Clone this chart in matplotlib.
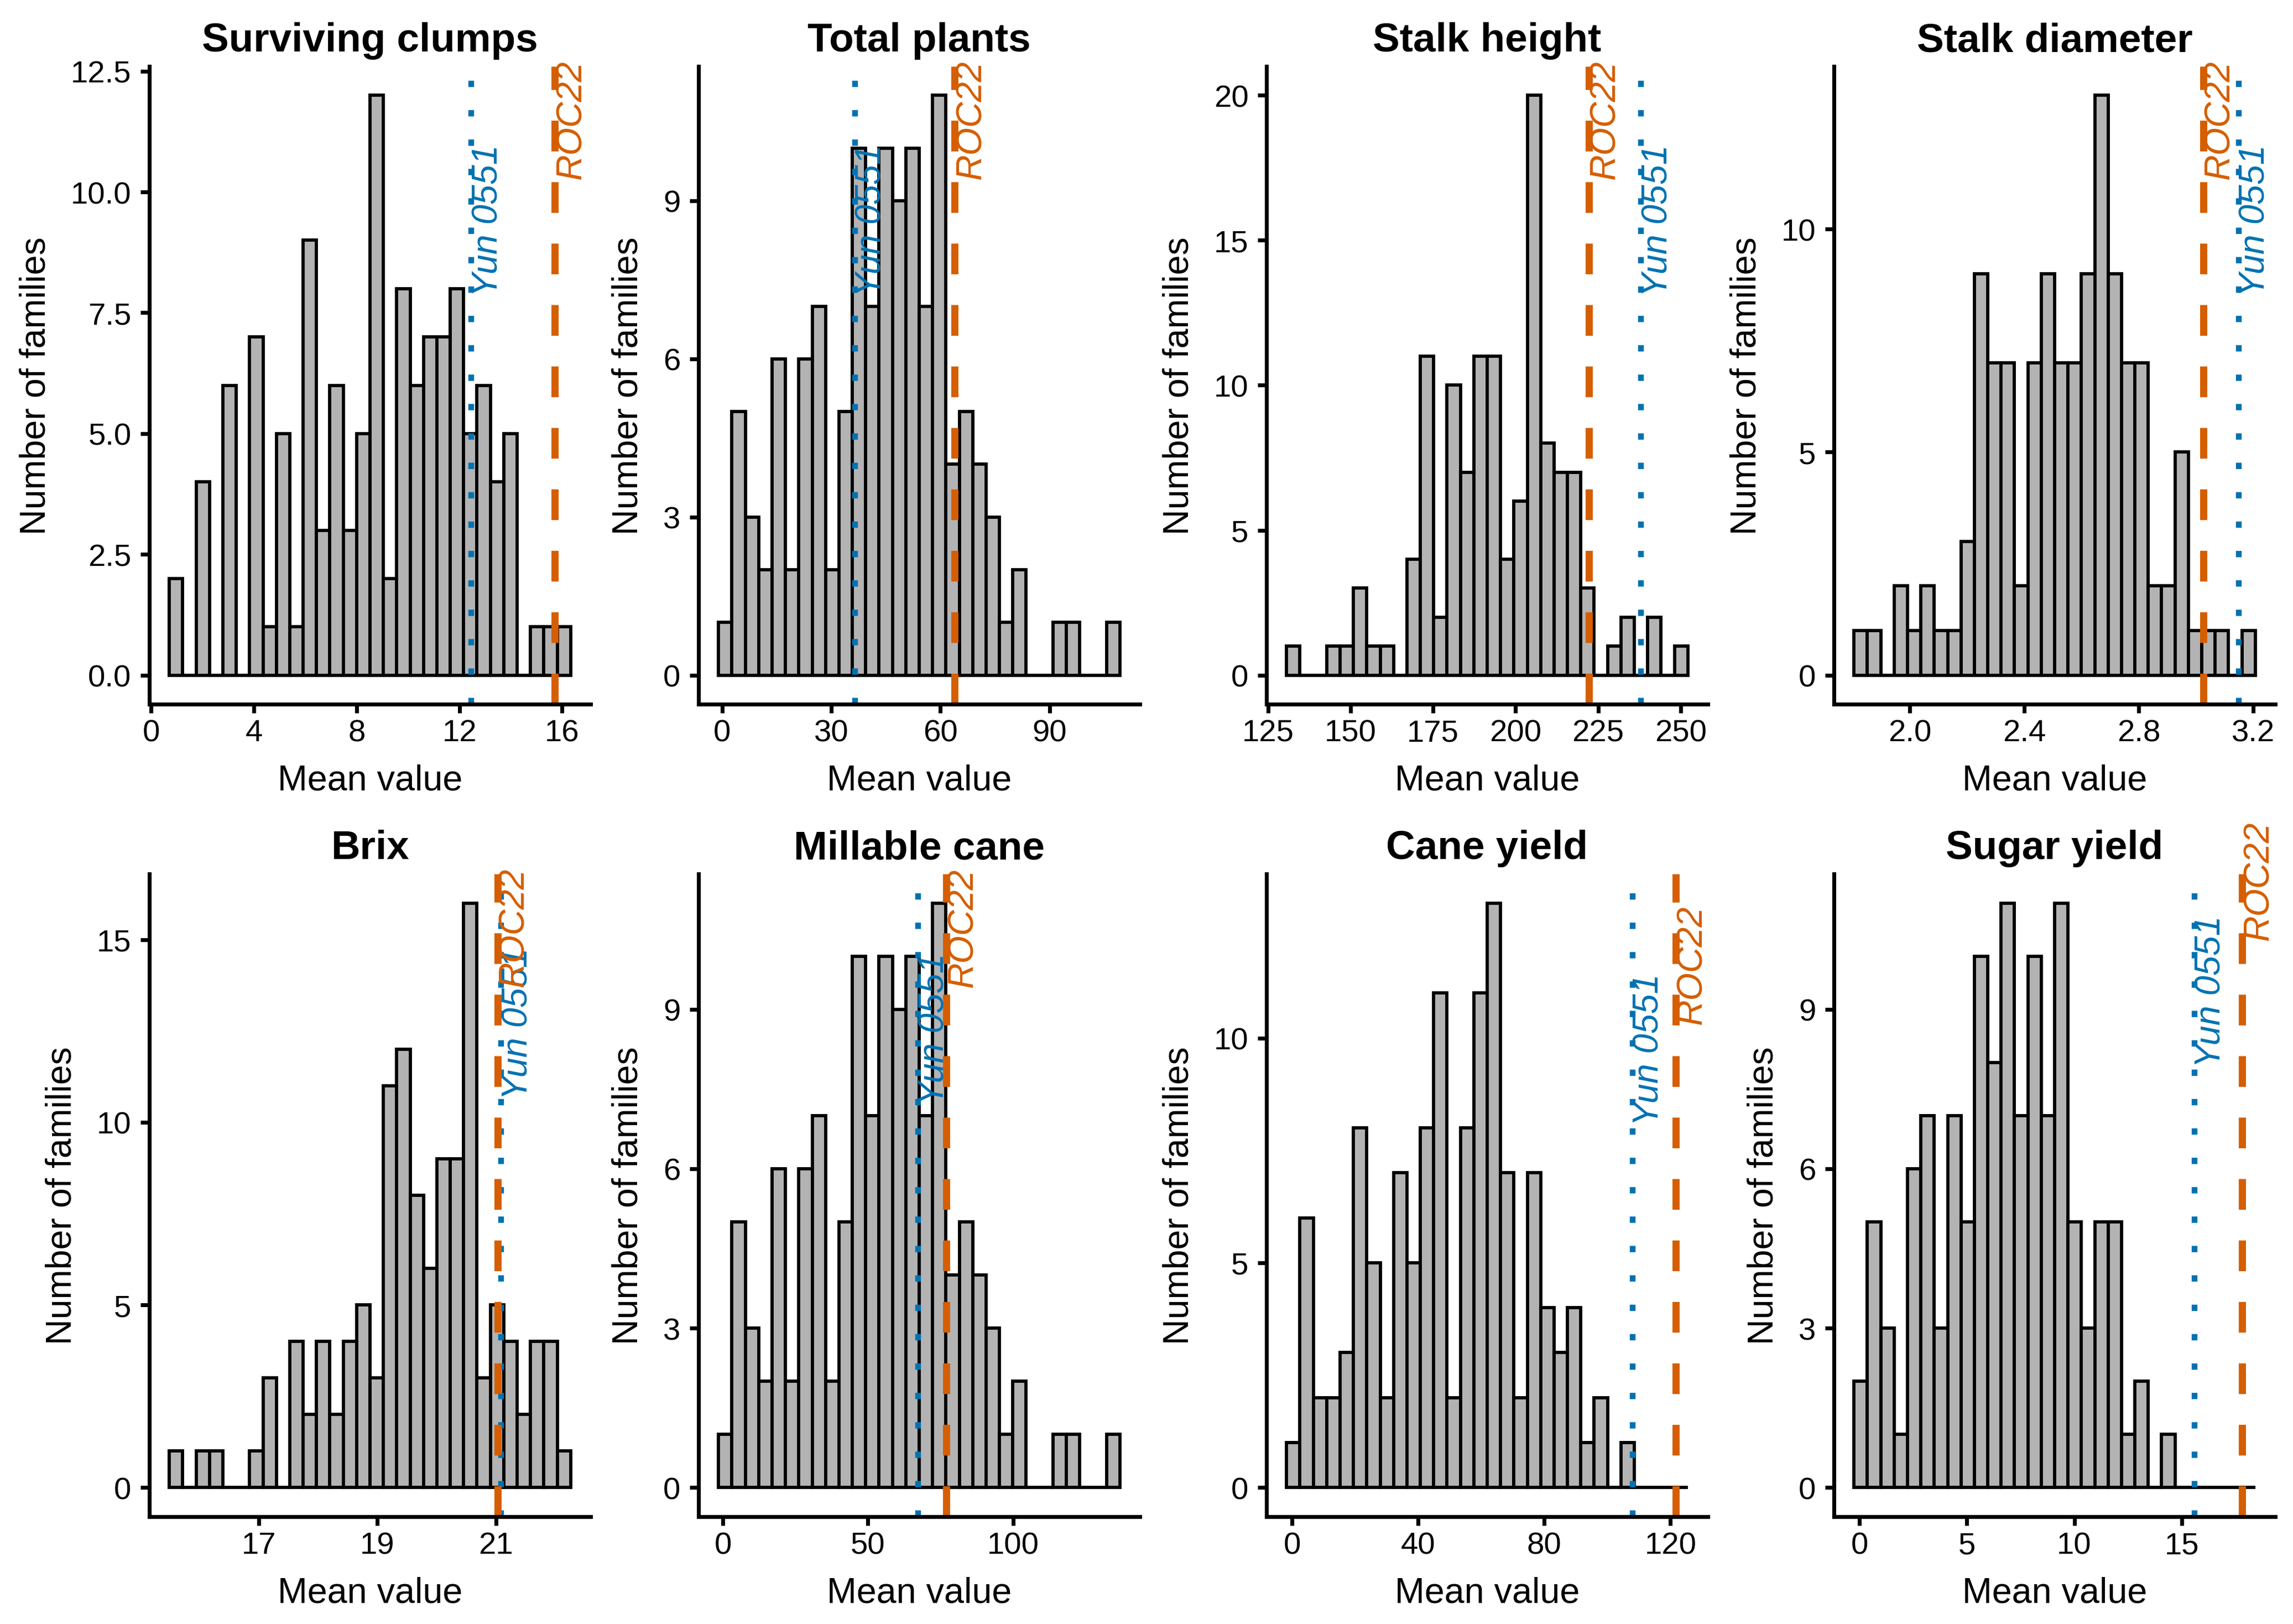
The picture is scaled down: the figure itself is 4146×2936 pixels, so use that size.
import numpy as np
import matplotlib
matplotlib.use('Agg')
import matplotlib.pyplot as plt

plt.rcParams['font.family'] = ['Liberation Sans', 'DejaVu Sans']

# panel titles
titles = ['Surviving clumps', 'Total plants', 'Stalk height', 'Stalk diameter',
          'Brix', 'Millable cane', 'Cane yield', 'Sugar yield']

# histogram counts (30 bins each)
clumps_counts = [2, 0, 4, 0, 6, 0, 7, 1, 5, 1, 9, 3, 6, 3, 5, 12, 2, 8, 6, 7,
                 7, 8, 5, 6, 4, 5, 0, 1, 1, 1]
plants_counts = [1, 5, 3, 2, 6, 2, 6, 7, 2, 5, 10, 7, 10, 9, 10, 7, 11, 4, 5, 4,
                 3, 1, 2, 0, 0, 1, 1, 0, 0, 1]
height_counts = [1, 0, 0, 1, 1, 3, 1, 1, 0, 4, 11, 2, 10, 7, 11, 11, 4, 6, 20, 8,
                 7, 7, 3, 0, 1, 2, 0, 2, 0, 1]
diameter_counts = [1, 1, 0, 2, 1, 2, 1, 1, 3, 9, 7, 7, 2, 7, 9, 7, 7, 9, 13, 9,
                   7, 7, 2, 2, 5, 1, 1, 1, 0, 1]
brix_counts = [1, 0, 1, 1, 0, 0, 1, 3, 0, 4, 2, 4, 2, 4, 5, 3, 11, 12, 8, 6,
               9, 9, 16, 3, 5, 4, 2, 4, 4, 1]
millable_counts = [1, 5, 3, 2, 6, 2, 6, 7, 2, 5, 10, 7, 10, 9, 10, 7, 11, 4, 5, 4,
                   3, 1, 2, 0, 0, 1, 1, 0, 0, 1]
cane_counts = [1, 6, 2, 2, 3, 8, 5, 2, 7, 5, 8, 11, 2, 8, 11, 13, 7, 2, 7, 4,
               3, 4, 1, 2, 0, 1, 0, 0, 0, 0]
sugar_counts = [2, 5, 3, 1, 6, 7, 3, 7, 5, 10, 8, 11, 7, 10, 7, 11, 5, 3, 5, 5,
                1, 2, 0, 1, 0, 0, 0, 0, 0, 0]

# left edge of first bin and bin width
bin_starts = [0.71, -1.0, 130.6, 1.805, 15.49, -1.5, -1.75, -0.26]
bin_widths = [0.5207, 3.677, 4.053, 0.04673, 0.2257, 4.61, 4.242, 0.623]

# check varieties
yun_values = [12.47, 36.5, 238.0, 3.149, 21.09, 67.2, 108.0, 15.6]
roc_values = [15.72, 63.9, 222.2, 3.025, 21.03, 77.0, 121.7, 17.83]

# tick marks
x_ticks = [[0, 4, 8, 12, 16], [0, 30, 60, 90], [125, 150, 175, 200, 225, 250],
           [2.0, 2.4, 2.8, 3.2], [17, 19, 21], [0, 50, 100], [0, 40, 80, 120],
           [0, 5, 10, 15]]
x_ticklabels = [['0', '4', '8', '12', '16'], ['0', '30', '60', '90'],
                ['125', '150', '175', '200', '225', '250'],
                ['2.0', '2.4', '2.8', '3.2'], ['17', '19', '21'],
                ['0', '50', '100'], ['0', '40', '80', '120'],
                ['0', '5', '10', '15']]
y_ticks = [[0, 2.5, 5, 7.5, 10, 12.5], [0, 3, 6, 9], [0, 5, 10, 15, 20],
           [0, 5, 10], [0, 5, 10, 15], [0, 3, 6, 9], [0, 5, 10], [0, 3, 6, 9]]
y_ticklabels = [['0.0', '2.5', '5.0', '7.5', '10.0', '12.5'], ['0', '3', '6', '9'],
                ['0', '5', '10', '15', '20'], ['0', '5', '10'],
                ['0', '5', '10', '15'], ['0', '3', '6', '9'], ['0', '5', '10'],
                ['0', '3', '6', '9']]

all_counts = [clumps_counts, plants_counts, height_counts, diameter_counts,
              brix_counts, millable_counts, cane_counts, sugar_counts]

# label heights (top of text, axes fraction)
yun_label_y = [0.878, 0.878, 0.878, 0.878, 0.886, 0.878, 0.846, 0.936]
roc_label_y = [1.010, 1.010, 1.010, 1.010, 1.010, 1.009, 0.951, 1.082]

BLUE = '#0072B2'
ORANGE = '#D55E00'
W, H = 4146, 2937

fig = plt.figure(figsize=(W / 300, H / 300), dpi=300)

lefts = [270, 1263, 2290, 3316]
rows = [(121, 1274), (1581, 2743)]
ax_w = 798

for i in range(8):
    r, c = divmod(i, 4)
    top, bot = rows[r]
    ax = fig.add_axes([lefts[c] / W, 1 - bot / H, ax_w / W, (bot - top) / H])

    counts = np.array(all_counts[i])
    edges = bin_starts[i] + bin_widths[i] * np.arange(len(counts) + 1)
    ax.bar(edges[:-1], counts, width=bin_widths[i], align='edge',
           color='#B3B3B3', edgecolor='black', linewidth=1.4, zorder=1)

    ax.axvline(yun_values[i], color=BLUE, linewidth=2.5, linestyle=(0, (1.1, 4.0)),
               dash_capstyle='butt', zorder=2)
    ax.axvline(roc_values[i], color=ORANGE, linewidth=3.1, linestyle=(0, (4.3, 4.3)),
               dash_capstyle='butt', zorder=2)

    tr = ax.get_xaxis_transform()
    ax.text(yun_values[i], yun_label_y[i], 'Yun 0551', transform=tr, rotation=90,
            ha='left', va='top', color=BLUE, fontsize=15.5, style='italic',
            clip_on=False, zorder=3)
    ax.text(roc_values[i], roc_label_y[i], 'ROC22', transform=tr, rotation=90,
            ha='left', va='top', color=ORANGE, fontsize=15.5, style='italic',
            clip_on=False, zorder=3)

    lo = min(edges[0], yun_values[i], roc_values[i])
    hi = max(edges[-1], yun_values[i], roc_values[i])
    span = hi - lo
    ax.set_xlim(lo - 0.05 * span, hi + 0.05 * span)
    ymax = counts.max()
    ax.set_ylim(-0.05 * ymax, 1.05 * ymax)

    ax.set_xticks(x_ticks[i])
    ax.set_xticklabels(x_ticklabels[i])
    ax.set_yticks(y_ticks[i])
    ax.set_yticklabels(y_ticklabels[i])

    for s in ['top', 'right']:
        ax.spines[s].set_visible(False)
    for s in ['left', 'bottom']:
        ax.spines[s].set_linewidth(1.7)
    ax.tick_params(axis='both', length=3.8, width=1.7, labelsize=13.5, color='black')
    ax.tick_params(axis='x', pad=2.5)
    ax.tick_params(axis='y', pad=4)

    ax.set_title(titles[i], fontsize=17.5, fontweight='bold', pad=6.7)
    ax.set_xlabel('Mean value', fontsize=15.5, labelpad=7)
    ax.set_ylabel('Number of families', fontsize=15.5, labelpad=8)

fig.savefig('out.png', dpi=300)
